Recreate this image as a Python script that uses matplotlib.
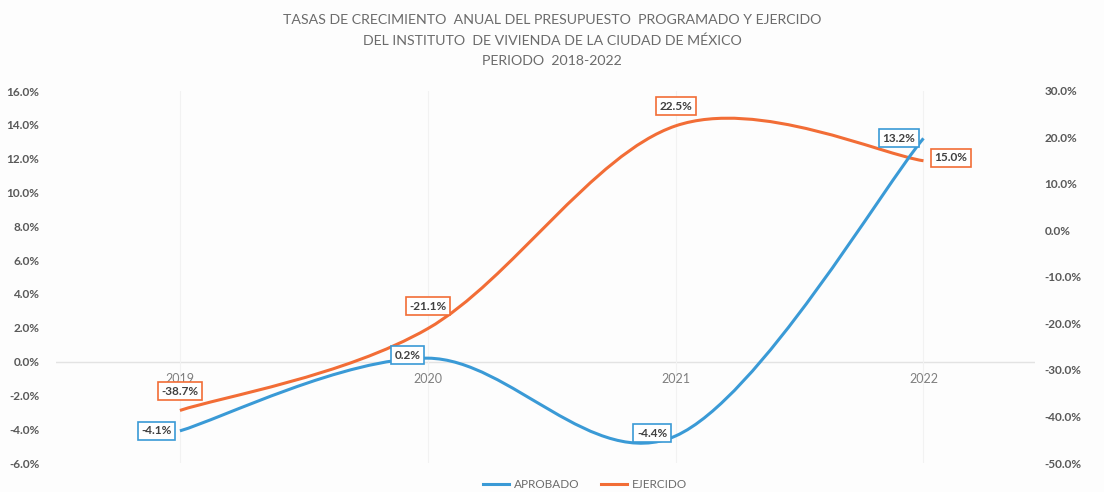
import matplotlib
matplotlib.use("Agg")
import matplotlib.pyplot as plt
from matplotlib.path import Path
from matplotlib.patches import PathPatch
from matplotlib.lines import Line2D
from matplotlib.ticker import FuncFormatter, MultipleLocator

years = ["2019", "2020", "2021", "2022"]
aprobado = [-4.1, 0.2, -4.4, 13.2]
ejercido = [-38.7, -21.1, 22.5, 15.0]
title = ("TASAS DE CRECIMIENTO  ANUAL DEL PRESUPUESTO  PROGRAMADO Y EJERCIDO\n"
         "DEL INSTITUTO  DE VIVIENDA DE LA CIUDAD DE MÉXICO\n"
         "PERIODO  2018-2022")

BLUE = "#3A9AD6"
ORANGE = "#F26D36"
GRAY = "#595959"
plt.rcParams['font.family'] = ['Lato', 'DejaVu Sans']

W, H = 1104, 492
fig = plt.figure(figsize=(W / 100, H / 100), dpi=100)
fig.patch.set_facecolor("#FDFDFD")
ax = fig.add_axes([56 / W, (H - 463) / H, (1035 - 56) / W, (463 - 91) / H])
ax2 = ax.twinx()
ax.set_facecolor("none")
for a in (ax, ax2):
    for s in a.spines.values():
        s.set_visible(False)

xs = list(range(len(years)))
ax.set_xlim(-0.5, 3.45)
ax.set_ylim(-6, 16)
ax2.set_ylim(-50, 30)
ax.yaxis.set_major_locator(MultipleLocator(2))
ax2.yaxis.set_major_locator(MultipleLocator(10))
fmt = FuncFormatter(lambda v, p: f"{v:.1f}%")
ax.yaxis.set_major_formatter(fmt)
ax2.yaxis.set_major_formatter(fmt)
ax.tick_params(axis='y', length=0, pad=12, labelsize=8.5, labelcolor=GRAY)
ax2.tick_params(axis='y', length=0, pad=7, labelsize=8.5, labelcolor=GRAY)
for lab in ax.get_yticklabels() + ax2.get_yticklabels():
    lab.set_fontweight('bold')

ax.spines['bottom'].set_position(('data', 0))
ax.set_xticks(xs)
ax.set_xticklabels(years)
ax.tick_params(axis='x', length=0, pad=8, labelsize=9, labelcolor="#7F7F7F")
ax.axhline(0, color="#E3E3E3", lw=1, zorder=0)
for x in xs:
    ax.axvline(x, color="#F2F2F2", lw=0.8, zorder=0)


def smooth_path(xv, yv):
    verts = [(xv[0], yv[0])]
    codes = [Path.MOVETO]
    n = len(xv)
    for i in range(n - 1):
        x0, y0 = (xv[i - 1], yv[i - 1]) if i > 0 else (xv[i], yv[i])
        x3, y3 = (xv[i + 2], yv[i + 2]) if i + 2 < n else (xv[i + 1], yv[i + 1])
        c1 = (xv[i] + (xv[i + 1] - x0) / 6, yv[i] + (yv[i + 1] - y0) / 6)
        c2 = (xv[i + 1] - (x3 - xv[i]) / 6, yv[i + 1] - (y3 - yv[i]) / 6)
        verts += [c1, c2, (xv[i + 1], yv[i + 1])]
        codes += [Path.CURVE4] * 3
    return Path(verts, codes)


ax2.add_patch(PathPatch(smooth_path(xs, ejercido), fill=False, ec=ORANGE, lw=2.2, zorder=3))
ax2.add_patch(PathPatch(smooth_path(xs, aprobado), fill=False, ec=BLUE, lw=2.2,
                        zorder=3, transform=ax.transData))


def label(a, x, y, txt, color, dx, dy, ha, trans=None):
    a.annotate(txt, (x, y), xycoords=trans if trans is not None else 'data',
               xytext=(dx, dy), textcoords='offset points',
               ha=ha, va='center', fontsize=8.5, fontweight='bold', color="#404040",
               bbox=dict(boxstyle='square,pad=0.3', fc='white', ec=color, lw=1.2),
               zorder=5, annotation_clip=False)


ap_off = [(-6, 0, 'right'), (-5, 2, 'right'), (-6, 2, 'right'), (-6, 0, 'right')]
ej_off = [(0, 14, 'center'), (0, 16, 'center'), (0, 14, 'center'), (8, 2, 'left')]
for x, v, (dx, dy, ha) in zip(xs, aprobado, ap_off):
    label(ax2, x, v, f"{v:.1f}%", BLUE, dx, dy, ha, trans=ax.transData)
for x, v, (dx, dy, ha) in zip(xs, ejercido, ej_off):
    label(ax2, x, v, f"{v:.1f}%", ORANGE, dx, dy, ha)

fig.text(0.5, 0.972, title, ha='center', va='top', fontsize=10.2, color="#6B6B6B",
         linespacing=1.8)

handles = [Line2D([], [], color=BLUE, lw=2.2), Line2D([], [], color=ORANGE, lw=2.2)]
fig.legend(handles, ["APROBADO", "EJERCIDO"], loc='lower center',
           bbox_to_anchor=(0.53, -0.018), ncol=2, frameon=False, fontsize=8.5,
           labelcolor="#6B6B6B", handlelength=2.2, columnspacing=1.8, handletextpad=0.4)

fig.savefig("out.png", dpi=100, facecolor=fig.get_facecolor())
